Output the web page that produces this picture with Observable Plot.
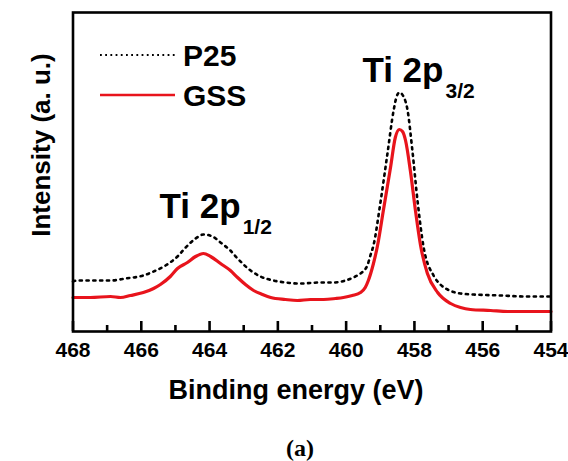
<!DOCTYPE html>
<html>
<head>
<meta charset="utf-8">
<script src="https://cdn.jsdelivr.net/npm/d3@7"></script>
<script src="https://cdn.jsdelivr.net/npm/@observablehq/plot@0.6"></script>
<style>
  html, body { margin: 0; padding: 0; background: #fff; }
  #wrap { position: relative; width: 568px; height: 461px; }
  #legend { position: absolute; left: 0; top: 0; pointer-events: none; }
</style>
</head>
<body>
<div id="wrap"></div>
<script>
// ---- data ----
const seriesNames = ["P25", "GSS"];
const energyP25 = [468.0, 467.87, 467.34, 466.90, 466.46, 465.94, 465.64, 465.29, 464.94, 464.70, 464.41, 464.18, 463.91, 463.68, 463.39, 463.18, 462.80, 462.51, 462.13, 461.78, 461.34, 460.76, 460.37, 460.02, 459.73, 459.58, 459.38, 459.29, 459.20, 459.00, 458.79, 458.61, 458.52, 458.44, 458.32, 458.20, 458.06, 457.91, 457.73, 457.44, 457.24, 457.03, 456.65, 456.27, 455.48, 454.75, 454.09, 454.0];
const intensityP25 = [50, 51, 51, 51, 53, 56, 60, 66, 75, 84, 93, 97, 95, 89, 81, 73, 61, 55, 51, 49, 48, 49, 49, 51, 55, 58, 66, 76, 86, 128, 178, 221, 235, 239, 235, 221, 181, 131, 84, 56, 47, 42, 38, 37, 36, 35, 35, 35];
const energyGSS = [468.0, 467.49, 466.90, 466.61, 466.32, 465.94, 465.64, 465.44, 465.15, 464.94, 464.65, 464.41, 464.18, 463.97, 463.68, 463.39, 463.18, 462.95, 462.71, 462.45, 462.21, 461.78, 461.43, 461.05, 460.66, 460.31, 460.08, 459.82, 459.58, 459.44, 459.35, 459.20, 459.08, 458.91, 458.70, 458.56, 458.44, 458.35, 458.26, 458.12, 457.97, 457.82, 457.62, 457.32, 456.94, 456.65, 456.36, 455.77, 455.27, 454.60, 454.0];
const intensityGSS = [34, 34, 35, 34, 36, 39, 43, 47, 55, 63, 69, 75, 78, 75, 68, 61, 54, 47, 41, 37, 34, 32, 31, 32, 32, 33, 34, 36, 39, 44, 51, 68, 86, 121, 164, 194, 202, 200, 191, 161, 121, 86, 58, 39, 28, 24, 22, 21, 20, 20, 20];
const majorTicks = [468, 466, 464, 462, 460, 458, 456, 454];
const minorTicks = [467, 465, 463, 461, 459, 457, 455];
const peakLabel = ["Ti 2p", "Ti 2p"];
const peakSub = ["3/2", "1/2"];
const peakLabelX = [457.15, 463.09];
const peakLabelY = [250, 114];
const xDomain = [468, 454];
const yDomain = [0, 319];

// ---- chart ----
const W = 568, H = 461;
const mL = 72.5, mR = 17.5, mT = 12, mB = 130;
const innerH = H - mT - mB;
const font = "'Liberation Sans', Arial, Helvetica, sans-serif";
const red = "#e8141c";

const p25 = energyP25.map((e, i) => ({e, v: intensityP25[i]}));
const gss = energyGSS.map((e, i) => ({e, v: intensityGSS[i]}));
const peaks = peakLabel.map((t, i) => ({t, s: peakSub[i], x: peakLabelX[i], y: peakLabelY[i]}));

const chart = Plot.plot({
  width: W, height: H,
  marginLeft: mL, marginRight: mR, marginTop: mT, marginBottom: mB,
  style: {fontFamily: font, background: "#fff", overflow: "visible"},
  x: {domain: xDomain},
  y: {domain: yDomain, axis: null},
  marks: [
    Plot.line(p25, {x: "e", y: "v", stroke: "#000", strokeWidth: 2.6, strokeDasharray: "2.2 4.6", curve: "monotone-x"}),
    Plot.line(gss, {x: "e", y: "v", stroke: red, strokeWidth: 3.2, curve: "monotone-x"}),
    Plot.tickX(majorTicks, {x: d => d, stroke: "#000", strokeWidth: 2.6, insetTop: innerH - 10}),
    Plot.tickX(minorTicks, {x: d => d, stroke: "#000", strokeWidth: 2.6, insetTop: innerH - 6}),
    Plot.frame({stroke: "#000", strokeWidth: 2.6}),
    Plot.axisX(majorTicks, {tickSize: 0, tickPadding: 11, fontSize: 21, fontWeight: "bold", label: null, tickFormat: d => String(d)}),
    Plot.text(["Binding energy (eV)"], {frameAnchor: "bottom", dx: -16, dy: 67, fontSize: 27, fontWeight: "bold", lineAnchor: "bottom"}),
    Plot.text(["Intensity (a. u.)"], {frameAnchor: "left", textAnchor: "middle", rotate: -90, dx: -31, dy: -27, fontSize: 26, fontWeight: "bold"}),
    Plot.text(["(a)"], {frameAnchor: "bottom", dx: -12, dy: 124, fontSize: 24, fontWeight: "bold", fontFamily: "'Liberation Serif', 'Times New Roman', serif", lineAnchor: "bottom"}),
    Plot.text(peaks, {x: "x", y: "y", text: "t", textAnchor: "end", lineAnchor: "bottom", fontSize: 35, fontWeight: "bold"}),
    Plot.text(peaks, {x: "x", y: "y", text: "s", textAnchor: "start", lineAnchor: "bottom", dx: 2, dy: 16, fontSize: 21, fontWeight: "bold"})
  ]
});
const wrap = document.getElementById("wrap");
wrap.appendChild(chart);

// ---- legend (overlay) ----
const leg = d3.select(wrap).append("svg").attr("id", "legend").attr("width", W).attr("height", 130);
const legStyles = [
  {stroke: "#000", width: 1.8, dash: "1.8 3.4"},
  {stroke: red, width: 2.6, dash: null}
];
seriesNames.forEach((name, i) => {
  const y = 55 + i * 40;
  leg.append("line").attr("x1", 100).attr("x2", 175).attr("y1", y).attr("y2", y)
    .attr("stroke", legStyles[i].stroke).attr("stroke-width", legStyles[i].width)
    .attr("stroke-dasharray", legStyles[i].dash);
  leg.append("text").attr("x", 183).attr("y", y + 11).text(name)
    .attr("font-family", font).attr("font-weight", "bold").attr("font-size", 30).attr("fill", "#000");
});
</script>
</body>
</html>
